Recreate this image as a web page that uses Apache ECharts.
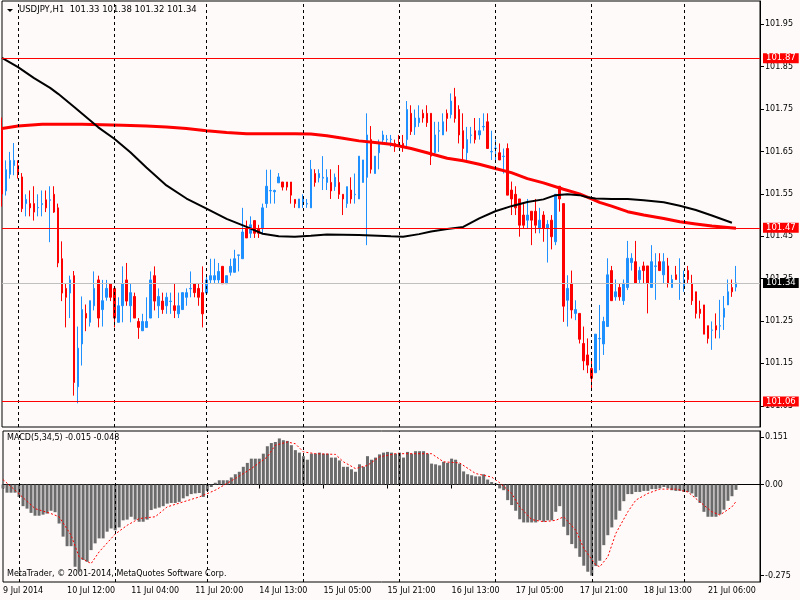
<!DOCTYPE html>
<html lang="en">
<head>
<meta charset="UTF-8">
<title>USDJPY,H1</title>
<style>
html, body { margin: 0; padding: 0; background: #fffafa; }
#main { width: 800px; height: 600px; }
</style>
</head>
<body>
<div id="main"></div>

<script src="https://cdn.jsdelivr.net/npm/echarts@6/dist/echarts.min.js"></script>
<script>
// hourly sessions shown on the chart: [day, first hour, last hour]
var sessions = [['9 Jul', 20, 23], ['10 Jul', 0, 23], ['11 Jul', 0, 22], ['14 Jul', 0, 23],
    ['15 Jul', 0, 23], ['16 Jul', 0, 23], ['17 Jul', 0, 23], ['18 Jul', 0, 22], ['21 Jul', 0, 13]];

var timeLabels = ['9 Jul 2014', '10 Jul 12:00', '11 Jul 04:00', '11 Jul 20:00', '14 Jul 13:00', '15 Jul 05:00',
    '15 Jul 21:00', '16 Jul 13:00', '17 Jul 05:00', '17 Jul 21:00', '18 Jul 13:00', '21 Jul 06:00'];
var dayStarts = [4, 28, 51, 75, 99, 123, 147, 170];

var open = [
    101.700, 101.557, 101.596, 101.617, 101.617, 101.590, 101.527, 101.527, 101.527, 101.517,
    101.525, 101.536, 101.535, 101.549, 101.517, 101.397, 101.327, 101.316, 101.357, 101.095,
    101.196, 101.268, 101.247, 101.286, 101.347, 101.277, 101.306, 101.338, 101.327, 101.247,
    101.286, 101.347, 101.286, 101.308, 101.249, 101.227, 101.235, 101.257, 101.357, 101.286,
    101.297, 101.286, 101.296, 101.286, 101.267, 101.277, 101.306, 101.326, 101.338, 101.327,
    101.317, 101.316, 101.347, 101.347, 101.347, 101.379, 101.338, 101.365, 101.365, 101.405,
    101.397, 101.468, 101.457, 101.487, 101.468, 101.468, 101.527, 101.557, 101.555, 101.576,
    101.578, 101.578, 101.578, 101.537, 101.517, 101.527, 101.526, 101.517, 101.598, 101.588,
    101.587, 101.577, 101.577, 101.567, 101.577, 101.549, 101.527, 101.559, 101.548, 101.538,
    101.577, 101.589, 101.678, 101.598, 101.647, 101.677, 101.678, 101.678, 101.669, 101.670,
    101.669, 101.678, 101.740, 101.708, 101.718, 101.740, 101.740, 101.740, 101.647, 101.698,
    101.689, 101.740, 101.737, 101.779, 101.749, 101.699, 101.647, 101.688, 101.699, 101.689,
    101.708, 101.720, 101.649, 101.657, 101.647, 101.638, 101.657, 101.559, 101.549, 101.538,
    101.500, 101.488, 101.509, 101.509, 101.469, 101.500, 101.469, 101.488, 101.437, 101.568,
    101.527, 101.299, 101.339, 101.268, 101.268, 101.197, 101.170, 101.138, 101.128, 101.208,
    101.196, 101.237, 101.369, 101.307, 101.329, 101.298, 101.329, 101.388, 101.390, 101.348,
    101.380, 101.380, 101.329, 101.379, 101.390, 101.359, 101.380, 101.329, 101.359, 101.339,
    101.329, 101.369, 101.339, 101.319, 101.278, 101.288, 101.239, 101.228, 101.239, 101.238,
    101.259, 101.288, 101.329, 101.330
];
var high = [
    101.730, 101.629, 101.649, 101.670, 101.629, 101.599, 101.549, 101.558, 101.568, 101.549,
    101.558, 101.558, 101.568, 101.568, 101.527, 101.438, 101.338, 101.357, 101.368, 101.237,
    101.308, 101.289, 101.298, 101.367, 101.357, 101.347, 101.347, 101.338, 101.327, 101.306,
    101.379, 101.387, 101.338, 101.317, 101.257, 101.267, 101.306, 101.367, 101.379, 101.327,
    101.317, 101.317, 101.317, 101.338, 101.317, 101.317, 101.327, 101.367, 101.338, 101.338,
    101.379, 101.357, 101.397, 101.397, 101.387, 101.379, 101.357, 101.397, 101.418, 101.406,
    101.517, 101.487, 101.497, 101.487, 101.477, 101.527, 101.607, 101.607, 101.560, 101.599,
    101.578, 101.578, 101.578, 101.537, 101.538, 101.549, 101.538, 101.630, 101.608, 101.608,
    101.639, 101.608, 101.608, 101.598, 101.618, 101.549, 101.567, 101.589, 101.598, 101.639,
    101.630, 101.740, 101.710, 101.639, 101.678, 101.699, 101.689, 101.689, 101.678, 101.689,
    101.689, 101.769, 101.759, 101.749, 101.759, 101.749, 101.759, 101.740, 101.720, 101.720,
    101.740, 101.749, 101.787, 101.800, 101.759, 101.740, 101.708, 101.708, 101.729, 101.729,
    101.740, 101.740, 101.699, 101.678, 101.669, 101.657, 101.669, 101.579, 101.568, 101.538,
    101.527, 101.538, 101.509, 101.538, 101.517, 101.509, 101.488, 101.500, 101.549, 101.568,
    101.527, 101.358, 101.369, 101.299, 101.268, 101.237, 101.209, 101.158, 101.219, 101.288,
    101.260, 101.398, 101.380, 101.348, 101.339, 101.348, 101.439, 101.410, 101.439, 101.378,
    101.390, 101.380, 101.429, 101.410, 101.410, 101.410, 101.399, 101.359, 101.380, 101.398,
    101.369, 101.380, 101.359, 101.319, 101.298, 101.288, 101.239, 101.249, 101.268, 101.300,
    101.309, 101.348, 101.348, 101.380
];
var low = [
    101.520, 101.546, 101.586, 101.594, 101.586, 101.507, 101.497, 101.497, 101.487, 101.497,
    101.497, 101.507, 101.436, 101.505, 101.377, 101.297, 101.235, 101.257, 101.074, 101.056,
    101.145, 101.226, 101.237, 101.275, 101.235, 101.237, 101.298, 101.297, 101.235, 101.247,
    101.247, 101.286, 101.247, 101.257, 101.208, 101.227, 101.235, 101.257, 101.275, 101.257,
    101.267, 101.267, 101.267, 101.257, 101.257, 101.277, 101.286, 101.306, 101.306, 101.286,
    101.235, 101.316, 101.338, 101.338, 101.338, 101.338, 101.338, 101.357, 101.365, 101.367,
    101.397, 101.446, 101.446, 101.446, 101.446, 101.457, 101.517, 101.527, 101.527, 101.576,
    101.558, 101.558, 101.527, 101.517, 101.517, 101.517, 101.517, 101.517, 101.567, 101.577,
    101.559, 101.559, 101.538, 101.557, 101.538, 101.500, 101.517, 101.527, 101.527, 101.538,
    101.577, 101.429, 101.598, 101.598, 101.608, 101.669, 101.669, 101.661, 101.649, 101.661,
    101.649, 101.657, 101.689, 101.689, 101.708, 101.718, 101.708, 101.618, 101.639, 101.649,
    101.689, 101.697, 101.728, 101.718, 101.669, 101.630, 101.630, 101.669, 101.669, 101.678,
    101.699, 101.657, 101.630, 101.630, 101.630, 101.598, 101.547, 101.500, 101.500, 101.449,
    101.469, 101.469, 101.429, 101.457, 101.457, 101.437, 101.388, 101.419, 101.429, 101.508,
    101.248, 101.237, 101.256, 101.252, 101.197, 101.134, 101.127, 101.087, 101.128, 101.134,
    101.170, 101.237, 101.298, 101.298, 101.298, 101.288, 101.323, 101.369, 101.339, 101.339,
    101.339, 101.268, 101.329, 101.300, 101.369, 101.339, 101.329, 101.329, 101.348, 101.300,
    101.319, 101.339, 101.288, 101.256, 101.256, 101.219, 101.197, 101.182, 101.209, 101.209,
    101.229, 101.288, 101.307, 101.320
];
var close = [
    101.550, 101.607, 101.629, 101.629, 101.598, 101.515, 101.537, 101.517, 101.507, 101.518,
    101.527, 101.517, 101.536, 101.507, 101.387, 101.316, 101.306, 101.347, 101.105, 101.186,
    101.277, 101.257, 101.298, 101.327, 101.257, 101.298, 101.327, 101.306, 101.257, 101.286,
    101.338, 101.297, 101.317, 101.257, 101.235, 101.249, 101.249, 101.347, 101.297, 101.308,
    101.277, 101.306, 101.297, 101.275, 101.286, 101.317, 101.317, 101.327, 101.317, 101.306,
    101.267, 101.347, 101.357, 101.357, 101.367, 101.338, 101.357, 101.379, 101.397, 101.406,
    101.460, 101.446, 101.477, 101.457, 101.457, 101.517, 101.568, 101.558, 101.558, 101.590,
    101.566, 101.566, 101.547, 101.527, 101.538, 101.538, 101.527, 101.608, 101.577, 101.598,
    101.589, 101.589, 101.557, 101.589, 101.549, 101.538, 101.567, 101.538, 101.549, 101.639,
    101.630, 101.689, 101.608, 101.639, 101.669, 101.689, 101.679, 101.679, 101.661, 101.669,
    101.661, 101.749, 101.697, 101.729, 101.729, 101.729, 101.718, 101.639, 101.689, 101.699,
    101.720, 101.728, 101.769, 101.728, 101.689, 101.657, 101.678, 101.689, 101.678, 101.699,
    101.709, 101.657, 101.650, 101.658, 101.630, 101.639, 101.547, 101.538, 101.517, 101.476,
    101.476, 101.500, 101.488, 101.476, 101.488, 101.469, 101.478, 101.449, 101.549, 101.538,
    101.285, 101.327, 101.276, 101.277, 101.207, 101.156, 101.146, 101.115, 101.219, 101.209,
    101.249, 101.359, 101.298, 101.319, 101.307, 101.339, 101.398, 101.398, 101.339, 101.369,
    101.369, 101.339, 101.390, 101.380, 101.369, 101.390, 101.339, 101.348, 101.348, 101.340,
    101.348, 101.348, 101.298, 101.268, 101.268, 101.219, 101.209, 101.229, 101.229, 101.239,
    101.280, 101.319, 101.319, 101.340
];

// moving averages, read at these bars
var redMaBars = [0, 4, 10, 20, 30, 36, 41, 46, 51, 56, 61, 73, 77, 81, 85, 89, 93, 97, 102, 106,
    111, 115, 119, 123, 127, 131, 135, 140, 144, 147, 149, 152, 156, 160, 165, 169, 173, 177, 183];
var redMa = [101.704, 101.710, 101.714, 101.714, 101.712, 101.710, 101.708, 101.704, 101.699, 101.695,
    101.692, 101.692, 101.691, 101.687, 101.681, 101.675, 101.671, 101.667, 101.657, 101.647,
    101.634, 101.628, 101.620, 101.610, 101.600, 101.586, 101.576, 101.561, 101.550, 101.538,
    101.530, 101.521, 101.508, 101.500, 101.492, 101.484, 101.479, 101.474, 101.469];
var blackMaBars = [0, 4, 8, 12, 14, 18, 24, 28, 32, 36, 41, 46, 51, 56, 61, 65, 69, 73, 77, 81,
    89, 97, 100, 104, 107, 111, 115, 119, 123, 127, 131, 135, 138, 141, 144, 146, 148, 152, 156,
    160, 165, 169, 173, 177, 182];
var blackMa = [101.871, 101.849, 101.823, 101.800, 101.786, 101.755, 101.707, 101.680, 101.648, 101.612,
    101.570, 101.539, 101.515, 101.491, 101.472, 101.456, 101.450, 101.449, 101.451, 101.454,
    101.453, 101.450, 101.449, 101.455, 101.461, 101.467, 101.472, 101.492, 101.509, 101.521,
    101.531, 101.537, 101.547, 101.549, 101.547, 101.542, 101.539, 101.538, 101.538, 101.535,
    101.530, 101.522, 101.512, 101.499, 101.482];

var levels = [101.87, 101.47, 101.06];
var lastPrice = 101.34;
var priceTicks = [101.05, 101.15, 101.25, 101.35, 101.45, 101.55, 101.65, 101.75, 101.85, 101.95];

var macd = [
    -0.011, -0.023, -0.023, -0.023, -0.035, -0.061, -0.068, -0.080, -0.088, -0.088,
    -0.085, -0.082, -0.074, -0.078, -0.110, -0.147, -0.174, -0.174, -0.232, -0.246,
    -0.213, -0.218, -0.185, -0.166, -0.152, -0.152, -0.133, -0.124, -0.129, -0.121,
    -0.101, -0.099, -0.091, -0.099, -0.105, -0.105, -0.099, -0.072, -0.068, -0.065,
    -0.061, -0.054, -0.052, -0.052, -0.049, -0.039, -0.033, -0.027, -0.025, -0.024,
    -0.035, -0.018, -0.007, 0.005, 0.012, 0.012, 0.012, 0.020, 0.029, 0.036,
    0.050, 0.061, 0.073, 0.073, 0.073, 0.087, 0.108, 0.117, 0.120, 0.130,
    0.125, 0.123, 0.111, 0.097, 0.090, 0.080, 0.070, 0.087, 0.087, 0.090,
    0.087, 0.087, 0.076, 0.076, 0.068, 0.050, 0.050, 0.043, 0.036, 0.057,
    0.050, 0.080, 0.070, 0.076, 0.085, 0.090, 0.092, 0.090, 0.087, 0.090,
    0.076, 0.092, 0.087, 0.094, 0.094, 0.094, 0.087, 0.059, 0.057, 0.054,
    0.064, 0.061, 0.073, 0.070, 0.059, 0.037, 0.029, 0.026, 0.023, 0.023,
    0.029, 0.014, 0.007, 0.003, -0.011, -0.016, -0.044, -0.058, -0.074, -0.098,
    -0.107, -0.107, -0.107, -0.107, -0.101, -0.105, -0.101, -0.101, -0.077, -0.061,
    -0.119, -0.143, -0.168, -0.180, -0.204, -0.229, -0.246, -0.257, -0.230, -0.215,
    -0.171, -0.143, -0.121, -0.099, -0.074, -0.047, -0.027, -0.027, -0.021, -0.021,
    -0.018, -0.018, -0.013, -0.013, -0.011, -0.007, -0.011, -0.016, -0.018, -0.018,
    -0.021, -0.021, -0.025, -0.035, -0.052, -0.077, -0.091, -0.091, -0.091, -0.084,
    -0.071, -0.046, -0.033, -0.015
];
var signalBars = [0, 3, 8, 12, 14, 17, 19, 22, 24, 28, 31, 34, 38, 41, 45, 49, 53, 58, 62, 66,
    68, 71, 73, 75, 78, 83, 85, 88, 91, 94, 98, 103, 107, 110, 114, 118, 122, 124, 127, 129,
    132, 135, 138, 140, 143, 145, 148, 149, 151, 153, 156, 158, 161, 164, 168, 171, 174, 177, 179, 182, 183];
var signal = [0.014, -0.016, -0.068, -0.082, -0.091, -0.143, -0.204, -0.223, -0.190, -0.140,
    -0.115, -0.096, -0.091, -0.063, -0.049, -0.035, -0.016, 0.017, 0.045, 0.078,
    0.111, 0.120, 0.115, 0.092, 0.087, 0.085, 0.064, 0.045, 0.054, 0.078,
    0.087, 0.087, 0.087, 0.064, 0.061, 0.031, 0.021, 0.005, -0.025, -0.063,
    -0.099, -0.105, -0.101, -0.091, -0.129, -0.180, -0.227, -0.232, -0.204, -0.138,
    -0.077, -0.044, -0.025, -0.013, -0.013, -0.021, -0.049, -0.077, -0.086, -0.063, -0.048];
var macdTicks = [0.133, 0, -0.257];
var macdTickText = ['0.151', '0.00', '-0.275'];

var FONT = 'DejaVu Sans';
var N = 190; // 184 bars plus empty chart shift on the right

var cats = [];
sessions.forEach(function (s) {
    for (var h = s[1]; h <= s[2]; h++) {
        cats.push(s[0] + ' ' + (h < 10 ? '0' : '') + h + ':00');
    }
});
while (cats.length < N) cats.push('');

var candles = open.map(function (o, i) { return [o, close[i], low[i], high[i]]; });
function pairs(bars, vals) { return bars.map(function (b, i) { return [b, vals[i]]; }); }

var sepLines = dayStarts.map(function (d) { return { xAxis: cats[d] }; });
var sepStyle = { color: '#000', width: 1, type: [3, 3] };

function levelLine(v, lineColor, boxColor) {
    return {
        yAxis: v,
        lineStyle: { color: lineColor, width: 1, type: 'solid' },
        label: {
            show: true, position: 'end', distance: 3,
            formatter: v.toFixed(2),
            color: '#fff', backgroundColor: boxColor,
            fontFamily: FONT, fontSize: 8.5, padding: [1, 3, 0, 3]
        }
    };
}

var myChart = echarts.init(document.getElementById('main'));

var option = {
    animation: false,
    backgroundColor: '#fffafa',
    grid: [
        { left: 2, right: 40, top: 1, height: 426, show: true, borderColor: '#000', borderWidth: 1 },
        { left: 2, right: 40, top: 431, height: 151, show: true, borderColor: '#000', borderWidth: 1 }
    ],
    xAxis: [
        {
            type: 'category', gridIndex: 0, data: cats, boundaryGap: false,
            axisLine: { show: false }, axisTick: { show: false }, axisLabel: { show: false },
            splitLine: { show: false }
        },
        {
            type: 'category', gridIndex: 1, data: cats, boundaryGap: false,
            axisLine: { show: true, lineStyle: { color: '#000' } },
            axisTick: { show: true, interval: 15, length: 4, lineStyle: { color: '#000' } },
            axisLabel: {
                interval: 15, align: 'left', margin: 5, color: '#000',
                fontFamily: FONT, fontSize: 8,
                formatter: function (v, i) { return timeLabels[Math.round(i / 16)] || ''; }
            },
            splitLine: { show: false }
        }
    ],
    yAxis: [
        {
            type: 'value', gridIndex: 0, position: 'right', min: 101.0, max: 102.005,
            axisLine: { show: true, lineStyle: { color: '#000' } },
            axisTick: { show: true, length: 4, customValues: priceTicks, lineStyle: { color: '#000' } },
            axisLabel: {
                customValues: priceTicks, margin: 5, color: '#000', fontFamily: FONT, fontSize: 8,
                formatter: function (v) { return v.toFixed(2); }
            },
            splitLine: { show: false }
        },
        {
            type: 'value', gridIndex: 1, position: 'right', min: -0.275, max: 0.151,
            axisLine: { show: true, lineStyle: { color: '#000' } },
            axisTick: { show: true, length: 4, customValues: macdTicks, lineStyle: { color: '#000' } },
            axisLabel: {
                customValues: macdTicks, margin: 5, color: '#000', fontFamily: FONT, fontSize: 8,
                formatter: function (v) {
                    var k = macdTicks.indexOf(v);
                    return k >= 0 ? macdTickText[k] : '';
                }
            },
            splitLine: { show: false }
        }
    ],
    graphic: [
        { type: 'polygon', shape: { points: [[7, 9], [13, 9], [10, 12]] }, style: { fill: '#000' } },
        {
            type: 'text', left: 19, top: 5,
            style: { text: 'USDJPY,H1  101.33 101.38 101.32 101.34', fill: '#000', font: '8.5px "DejaVu Sans"' }
        },
        {
            type: 'text', left: 7, top: 434,
            style: { text: 'MACD(5,34,5) -0.015 -0.048', fill: '#000', font: '8px "DejaVu Sans"' }
        },
        {
            type: 'text', left: 7, top: 570,
            style: { text: 'MetaTrader, \u00a9 2001-2014, MetaQuotes Software Corp.', fill: '#000', font: '8px "DejaVu Sans"' }
        }
    ],
    series: [
        {
            type: 'candlestick', xAxisIndex: 0, yAxisIndex: 0,
            data: candles, barWidth: 2,
            itemStyle: {
                color: '#1e90ff', color0: '#ff0000',
                borderColor: '#1e90ff', borderColor0: '#ff0000', borderWidth: 1
            },
            markLine: {
                silent: true, symbol: 'none', animation: false,
                label: { show: false },
                lineStyle: sepStyle,
                data: sepLines.concat([
                    levelLine(levels[0], '#ff0000', '#ff0000'),
                    levelLine(levels[1], '#ff0000', '#ff0000'),
                    levelLine(levels[2], '#ff0000', '#ff0000'),
                    levelLine(lastPrice, '#c0c0c0', '#000000')
                ])
            }
        },
        {
            type: 'line', xAxisIndex: 0, yAxisIndex: 0, data: pairs(redMaBars, redMa),
            showSymbol: false, lineStyle: { color: '#ff0000', width: 3 }, z: 3
        },
        {
            type: 'line', xAxisIndex: 0, yAxisIndex: 0, data: pairs(blackMaBars, blackMa),
            showSymbol: false, lineStyle: { color: '#000', width: 2 }, z: 3
        },
        {
            type: 'bar', xAxisIndex: 1, yAxisIndex: 1, data: macd, barWidth: 3,
            itemStyle: { color: '#6b6b6b' },
            markLine: {
                silent: true, symbol: 'none', animation: false,
                label: { show: false }, lineStyle: sepStyle, data: sepLines
            }
        },
        {
            type: 'line', xAxisIndex: 1, yAxisIndex: 1, data: pairs(signalBars, signal),
            showSymbol: false, lineStyle: { color: '#ff0000', width: 1, type: [2, 2] }, z: 3
        }
    ]
};

myChart.setOption(option);
</script>
</body>
</html>
